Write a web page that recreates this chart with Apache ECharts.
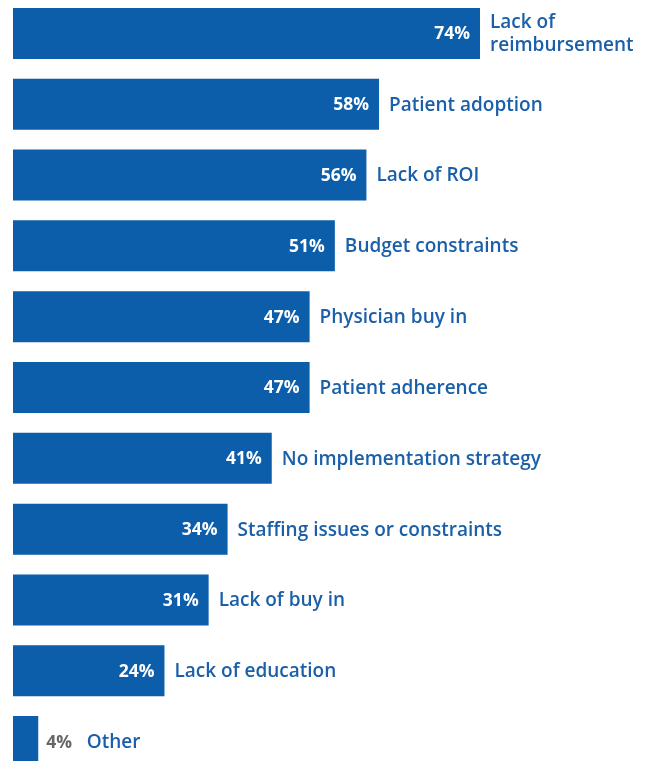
<!DOCTYPE html>
<html><head><meta charset="utf-8">
<script src="https://cdn.jsdelivr.net/npm/echarts@6/dist/echarts.min.js"></script>
<style>html,body{margin:0;padding:0;background:#fff}#c{width:652px;height:761px}</style>
</head><body><div id="c"></div>
<script>
const categories = ["Lack of\nreimbursement","Patient adoption","Lack of ROI","Budget constraints","Physician buy in","Patient adherence","No implementation strategy","Staffing issues or constraints","Lack of buy in","Lack of education","Other"];
const values = [74,58,56,51,47,47,41,34,31,24,4];
const BLUE = '#0c5eab', TEXT = '#1a5fa8', FONT = '"Open Sans", sans-serif';
const chart = echarts.init(document.getElementById('c'));
const last = values.length - 1;
chart.setOption({
  animation:false,
  grid:{left:13, top:-2, width:631.1, height:779, containLabel:false, outerBoundsMode:'none'},
  xAxis:{type:'value', min:0, max:100, show:false},
  yAxis:{type:'category', data:categories, inverse:true, show:false},
  series:[
    {type:'bar', barWidth:51, itemStyle:{color:BLUE},
     data: values.map((v,i)=> i===last ? {value:v, label:{formatter:'{v|'+v+'%}   {c|'+categories[i]+'}', distance:8}} : v),
     label:{show:true, position:'right', distance:10, offset:[0,1], color:TEXT, fontFamily:FONT, fontSize:19, fontWeight:600, lineHeight:23,
       formatter:p=>p.name,
       rich:{v:{color:'#666', fontFamily:FONT, fontSize:17.5, fontWeight:700}, c:{color:TEXT, fontFamily:FONT, fontSize:19, fontWeight:600}}},
     z:2},
    {type:'bar', barWidth:51, barGap:'-100%', itemStyle:{color:'transparent'},
     data: values.map((v,i)=> i===last ? {value:v, label:{show:false}} : v),
     label:{show:true, position:'insideRight', distance:10, offset:[0,1], color:'#fff', fontFamily:FONT, fontSize:17.5, fontWeight:700, formatter:p=>p.value+'%'},
     z:3}
  ]
});
</script></body></html>
